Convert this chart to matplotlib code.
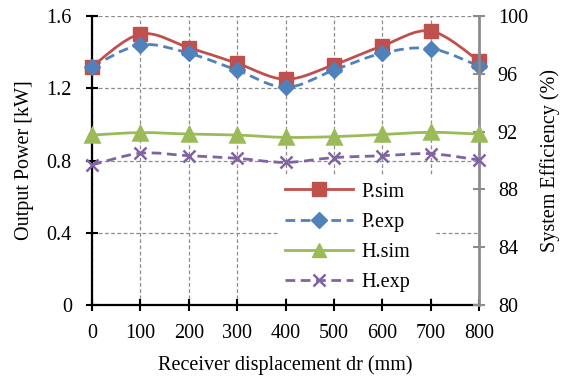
import matplotlib
matplotlib.use("Agg")
import matplotlib.pyplot as plt
from matplotlib.path import Path
from matplotlib.patches import PathPatch
from matplotlib.lines import Line2D
import numpy as np

plt.rcParams['font.family'] = ['Liberation Serif', 'DejaVu Serif']

displacement = [0, 100, 200, 300, 400, 500, 600, 700, 800]
p_sim = [1.32, 1.50, 1.425, 1.338, 1.25, 1.33, 1.434, 1.517, 1.351]
p_exp = [1.32, 1.44, 1.394, 1.30, 1.205, 1.30, 1.394, 1.42, 1.323]
h_sim = [91.76, 91.93, 91.83, 91.76, 91.60, 91.65, 91.80, 91.95, 91.83]
h_exp = [89.69, 90.50, 90.33, 90.15, 89.87, 90.20, 90.33, 90.47, 90.03]

left_ticks = [0, 0.4, 0.8, 1.2, 1.6]
right_ticks = [80, 84, 88, 92, 96, 100]
x_ticks = [0, 100, 200, 300, 400, 500, 600, 700, 800]

RED = '#C0504D'
BLUE = '#4F81BD'
GREEN = '#9BBB59'
PURPLE = '#8064A2'
GRID = '#8c8c8c'
FS = 14.5


def smooth_path(xs, ys):
    pts = np.column_stack([xs, ys]).astype(float)
    n = len(pts)
    verts = [pts[0]]
    codes = [Path.MOVETO]
    for i in range(n - 1):
        p0 = pts[i - 1] if i > 0 else pts[i]
        p1 = pts[i]
        p2 = pts[i + 1]
        p3 = pts[i + 2] if i + 2 < n else pts[i + 1]
        c1 = p1 + (p2 - p0) / 6.0
        c2 = p2 - (p3 - p1) / 6.0
        verts += [c1, c2, p2]
        codes += [Path.CURVE4] * 3
    return Path(verts, codes)


fig = plt.figure(figsize=(5.63, 3.78), dpi=100)
ax = fig.add_axes([92 / 563, 1 - 305 / 378, (479 - 92) / 563, (305 - 16) / 378])
ax2 = ax.twinx()

DASH = (0, (3.5, 2))

for ys, col, ls, mk, ms in [(p_sim, RED, '-', 's', 10.5), (p_exp, BLUE, DASH, 'D', 8.5)]:
    ax.add_patch(PathPatch(smooth_path(displacement, ys), fill=False, edgecolor=col,
                           lw=2, linestyle=ls, zorder=3))
    ax.plot(displacement, ys, ls='none', marker=mk, ms=ms, color=col, mec=col,
            clip_on=False, zorder=4)

for ys, col, ls, mk, ms in [(h_sim, GREEN, '-', '^', 10.5), (h_exp, PURPLE, DASH, 'x', 9)]:
    ax2.add_patch(PathPatch(smooth_path(displacement, ys), fill=False, edgecolor=col,
                            lw=2, linestyle=ls, zorder=3))
    ax2.plot(displacement, ys, ls='none', marker=mk, ms=ms, color=col, mec=col,
             mew=1.8, clip_on=False, zorder=4)

ax.set_xlim(0, 800)
ax.set_ylim(0, 1.6)
ax2.set_ylim(80, 100)
ax.set_xticks(x_ticks)
ax.set_xticklabels([str(v) for v in x_ticks], fontsize=FS)
ax.set_yticks(left_ticks)
ax.set_yticklabels(['0', '0.4', '0.8', '1.2', '1.6'], fontsize=FS)
ax2.set_yticks(right_ticks)
ax2.set_yticklabels([str(v) for v in right_ticks], fontsize=FS)

ax.grid(True, color=GRID, linestyle=(0, (3, 2)), linewidth=0.9)
ax.set_axisbelow(True)

ax.spines['top'].set_visible(False)
ax2.spines['top'].set_visible(False)
ax2.spines['left'].set_visible(False)
ax2.spines['bottom'].set_visible(False)
ax.spines['right'].set_visible(False)
ax.spines['left'].set_linewidth(1.6)
ax.spines['bottom'].set_linewidth(1.6)
ax2.spines['right'].set_color(GRID)
ax2.spines['right'].set_linewidth(2)

ax.tick_params(axis='x', direction='inout', length=9, width=1.5, colors='black', pad=9)
ax.tick_params(axis='y', direction='inout', length=9, width=1.5, colors='black', pad=10)
ax2.tick_params(axis='y', direction='inout', length=9, width=1.5, color=GRID,
                labelcolor='black', pad=9)

ax.set_xlabel('Receiver displacement dr (mm)', fontsize=FS, labelpad=9)
ax.set_ylabel('Output Power [kW]', fontsize=FS, labelpad=9)
ax2.set_ylabel('System Efficiency (%)', fontsize=FS, labelpad=9)

handles = [
    Line2D([], [], color=RED, lw=2, marker='s', ms=10.5),
    Line2D([], [], color=BLUE, lw=2, ls=DASH, marker='D', ms=8.5),
    Line2D([], [], color=GREEN, lw=2, marker='^', ms=10.5),
    Line2D([], [], color=PURPLE, lw=2, ls=DASH, marker='x', ms=9, mew=1.8),
]
labels = ['P.sim', 'P.exp', 'H.sim', 'H.exp']
leg = ax2.legend(handles, labels, loc='lower left', bbox_to_anchor=(0.483, 0.024, 0.406, 0.4),
                 mode='expand', frameon=True, fancybox=False, edgecolor='none',
                 facecolor='white', framealpha=1, fontsize=FS, handlelength=3.4,
                 handletextpad=0.4, labelspacing=0.55, borderpad=0.3, borderaxespad=0)
leg.set_zorder(10)

fig.savefig('out.png', dpi=100)
